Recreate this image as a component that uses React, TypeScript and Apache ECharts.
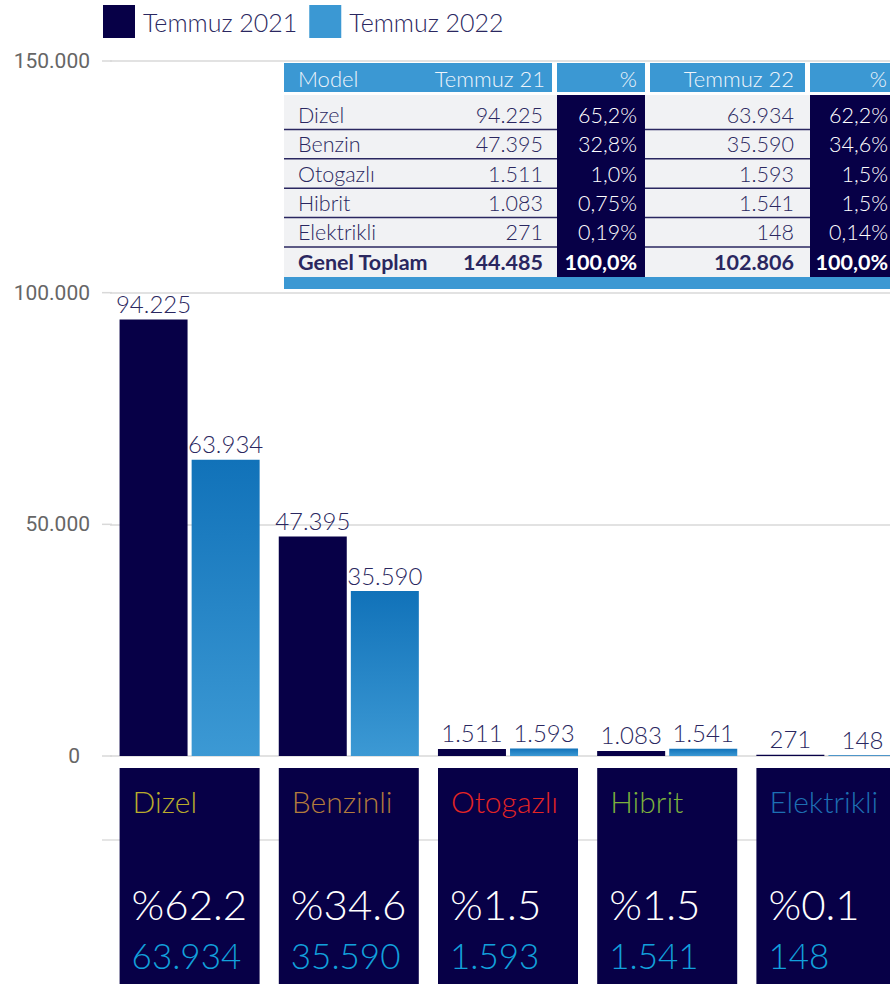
import React, { useEffect, useRef } from "react";
import * as echarts from "echarts";

const categories = ["Dizel", "Benzin", "Otogazlı", "Hibrit", "Elektrikli"];
const boxNames = ["Dizel", "Benzinli", "Otogazlı", "Hibrit", "Elektrikli"];
const boxColors = ["#b9ac2c", "#b37c3c", "#e42524", "#7cb13c", "#1d6fb3"];
const values2021 = [94225, 47395, 1511, 1083, 271];
const values2022 = [63934, 35590, 1593, 1541, 148];
const pct2021 = ["65,2%", "32,8%", "1,0%", "0,75%", "0,19%"];
const pct2022 = ["62,2%", "34,6%", "1,5%", "1,5%", "0,14%"];
const share2022 = [62.2, 34.6, 1.5, 1.5, 0.1];
const total2021 = 144485;
const total2022 = 102806;
const yTicks = [0, 50000, 100000, 150000];

const NAVY = "#070047";
const BLUE = "#3b98d3";
const TXT = "#2a2760";
const FONT = "Lato";

const fmt = (n: number) => String(n).replace(/\B(?=(\d{3})+(?!\d))/g, ".");

function tableGraphics() {
  const g: any[] = [];
  const L = 284, R = 890;
  const hdr = [[284, 552], [557, 645], [650, 805], [810, 890]];
  hdr.forEach(([a, b]) =>
    g.push({ type: "rect", shape: { x: a, y: 63, width: b - a, height: 29 }, style: { fill: BLUE }, silent: true })
  );
  const hText = (t: string, x: number, align: string) =>
    g.push({
      type: "text", x, y: 78,
      style: { text: t, fill: "#eef4fb", font: `300 22px ${FONT}`, align, verticalAlign: "middle" }, silent: true,
    });
  hText("Model", 298, "left");
  hText("Temmuz 21", 545, "right");
  hText("%", 637, "right");
  hText("Temmuz 22", 794, "right");
  hText("%", 887, "right");
  g.push({ type: "rect", shape: { x: L, y: 95, width: R - L, height: 182 }, style: { fill: "#f1f2f4" }, silent: true });
  g.push({ type: "rect", shape: { x: 557, y: 95, width: 88, height: 182 }, style: { fill: NAVY }, silent: true });
  g.push({ type: "rect", shape: { x: 810, y: 95, width: 80, height: 182 }, style: { fill: NAVY }, silent: true });
  g.push({ type: "rect", shape: { x: L, y: 277, width: R - L, height: 12 }, style: { fill: BLUE }, silent: true });
  const y0 = 100, h = 29.4;
  const rows = categories.map((c, i) => [c, fmt(values2021[i]), pct2021[i], fmt(values2022[i]), pct2022[i]]);
  rows.push(["Genel Toplam", fmt(total2021), "100,0%", fmt(total2022), "100,0%"]);
  rows.forEach((r, i) => {
    const cy = y0 + h * i + h / 2;
    const bold = i === rows.length - 1;
    const w = bold ? 700 : 300;
    const t = (s: string, x: number, align: string, fill: string) =>
      g.push({
        type: "text", x, y: cy,
        style: { text: s, fill, font: `${w} 21.5px ${FONT}`, align, verticalAlign: "middle" }, silent: true,
      });
    t(r[0], 298, "left", TXT);
    t(r[1], 543, "right", TXT);
    t(r[2], 637, "right", "#ffffff");
    t(r[3], 794, "right", TXT);
    t(r[4], 888, "right", "#ffffff");
    const ly = y0 + h * (i + 1);
    if (i < rows.length - 1) {
      g.push({ type: "line", shape: { x1: L, y1: ly, x2: 557, y2: ly }, style: { stroke: "#2a2760", lineWidth: 1.5 }, silent: true });
      g.push({ type: "line", shape: { x1: 645, y1: ly, x2: 810, y2: ly }, style: { stroke: "#2a2760", lineWidth: 1.5 }, silent: true });
    }
  });
  return g;
}

export default function App() {
  const ref = useRef<HTMLDivElement>(null);
  useEffect(() => {
    if (!ref.current) return;
    const chart = echarts.init(ref.current, null, { renderer: "svg" });
    const blueGrad = new echarts.graphic.LinearGradient(0, 0, 0, 1, [
      { offset: 0, color: "#1172b9" },
      { offset: 1, color: "#3c99d4" },
    ]);
    const labelStyle = {
      show: true, position: "top", distance: 4, color: TXT,
      fontFamily: FONT, fontWeight: 300, fontSize: 24,
      formatter: (p: any) => fmt(p.value),
    };
    chart.setOption({
      animation: false,
      legend: {
        left: 98, top: 0, itemWidth: 32, itemHeight: 33, itemGap: 12,
        icon: "rect",
        textStyle: { color: TXT, fontFamily: FONT, fontWeight: 300, fontSize: 25, padding: [0, 0, 0, 3] },
        data: [
          { name: "Temmuz 2021", itemStyle: { color: NAVY } },
          { name: "Temmuz 2022", itemStyle: { color: BLUE } },
        ],
      },
      grid: { left: 110, right: -16, top: 61, bottom: 228, containLabel: false, outerBoundsMode: "none" },
      xAxis: {
        type: "category", data: categories,
        axisLine: { show: false }, axisTick: { show: false }, axisLabel: { show: false },
      },
      yAxis: {
        type: "value", min: yTicks[0], max: yTicks[yTicks.length - 1], interval: yTicks[1] - yTicks[0],
        axisLine: { show: false }, axisTick: { show: false },
        splitLine: { lineStyle: { color: "#d9d9d9", width: 1.5 } },
        axisLabel: {
          margin: 20, color: "#666666", fontSize: 21, fontFamily: "Roboto",
          formatter: (v: number) => (v === 0 ? "{z|0}" : fmt(v)),
          rich: { z: { color: "#666666", fontSize: 21, fontFamily: "Roboto", padding: [0, 10, 0, 0] } },
        },
      },
      series: [
        {
          name: "Temmuz 2021", type: "bar", data: values2021, barWidth: 68, barGap: "6%",
          itemStyle: { color: NAVY }, label: labelStyle,
        },
        {
          name: "Temmuz 2022", type: "bar", data: values2022, barWidth: 68,
          itemStyle: { color: blueGrad }, label: labelStyle,
        },
      ],
    });
    const g: any[] = tableGraphics();
    [0, 1, 2, 3].forEach((k) => {
      const yy = chart.convertToPixel({ yAxisIndex: 0 }, yTicks[k]) as number;
      g.push({ type: "line", z: -1, shape: { x1: 102, y1: yy, x2: 112, y2: yy }, style: { stroke: "#d9d9d9", lineWidth: 1.5 }, silent: true });
    });
    g.push({ type: "line", z: -1, shape: { x1: 102, y1: 840, x2: 890, y2: 840 }, style: { stroke: "#dddddd", lineWidth: 1.5 }, silent: true });
    categories.forEach((c, i) => {
      const cx = chart.convertToPixel({ xAxisIndex: 0 }, c) as number;
      const x = cx - 70;
      g.push({ type: "rect", shape: { x, y: 768, width: 140, height: 216 }, style: { fill: NAVY }, silent: true });
      g.push({ type: "text", x: x + 13, y: 801, style: { text: boxNames[i], fill: boxColors[i], font: `300 30px ${FONT}`, verticalAlign: "middle" }, silent: true });
      g.push({ type: "text", x: x + 12, y: 904, style: { text: "%" + share2022[i].toFixed(1), fill: "#ffffff", font: `300 42px ${FONT}`, verticalAlign: "middle" }, silent: true });
      g.push({ type: "text", x: x + 12, y: 955, style: { text: fmt(values2022[i]), fill: "#12a0dc", font: `300 35px ${FONT}`, verticalAlign: "middle" }, silent: true });
    });
    chart.setOption({ graphic: g });
    return () => chart.dispose();
  }, []);
  return <div ref={ref} style={{ position: "absolute", left: 0, top: 0, width: 890, height: 984 }} />;
}
